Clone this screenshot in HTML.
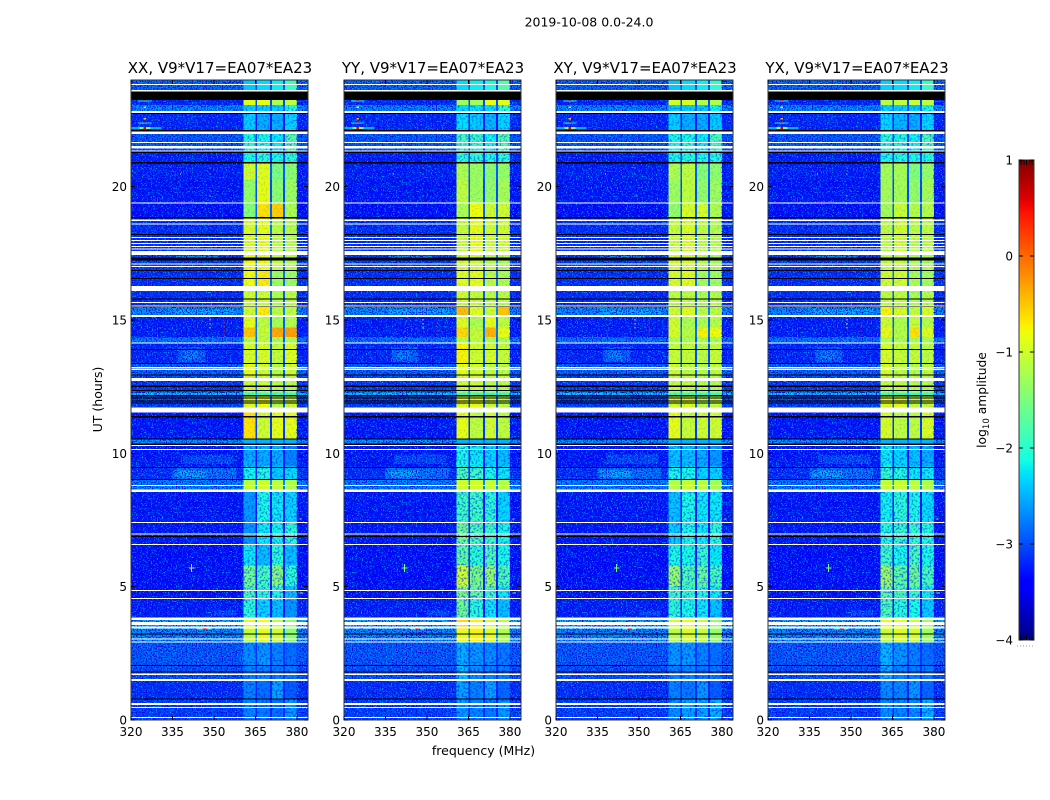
<!DOCTYPE html>
<html><head><meta charset="utf-8"><title>2019-10-08 spectrograms</title>
<style>
html,body{margin:0;padding:0;background:#fff;}
svg{display:block;font-family:"DejaVu Sans","Liberation Sans",sans-serif;fill:#000;}
</style></head>
<body>
<svg id="fig" width="1050" height="800" viewBox="0 0 1050 800" xmlns="http://www.w3.org/2000/svg" shape-rendering="crispEdges">
<defs>
<filter id="speckle" x="0" y="0" width="100%" height="100%" color-interpolation-filters="sRGB">
<feTurbulence type="fractalNoise" baseFrequency="0.8" numOctaves="1" seed="4"/>
<feColorMatrix type="matrix" values="0 0 0 0 0  0 0 0 0 0.62  0 0 0 0 1  9 0 0 0 -4.9"/>
</filter>
<filter id="speckle-dark" x="0" y="0" width="100%" height="100%" color-interpolation-filters="sRGB">
<feTurbulence type="fractalNoise" baseFrequency="0.8" numOctaves="1" seed="17"/>
<feColorMatrix type="matrix" values="0 0 0 0 0  0 0 0 0 0.04  0 0 0 0 0.85  9 0 0 0 -4.5"/>
</filter>
<filter id="speckle-band" x="0" y="0" width="100%" height="100%" color-interpolation-filters="sRGB">
<feTurbulence type="fractalNoise" baseFrequency="0.5" numOctaves="2" seed="9"/>
<feColorMatrix type="matrix" values="0 0 0 0 0  0 0 0 0 0.2  0 0 0 0 0.95  6 0 0 0 -3"/>
</filter>
<linearGradient id="jet-gradient" x1="0" y1="1" x2="0" y2="0"></linearGradient>
</defs>
<text x="589" y="26.5" font-size="12.5" text-anchor="middle">2019-10-08 0.0-24.0</text>
<g id="panels"></g>
<text transform="translate(102,399.5) rotate(-90)" font-size="12.5" text-anchor="middle">UT (hours)</text>
<text x="483.5" y="755" font-size="12.5" text-anchor="middle">frequency (MHz)</text>
<g id="colorbar"></g>
<text transform="translate(986,400) rotate(-90)" font-size="12.3" text-anchor="middle">log<tspan font-size="8.6" dy="3">10</tspan><tspan dy="-3"> amplitude</tspan></text>
</svg>
<script>
// ---- axes data ----
const panelTitles = ["XX, V9*V17=EA07*EA23","YY, V9*V17=EA07*EA23","XY, V9*V17=EA07*EA23","YX, V9*V17=EA07*EA23"];
const freqTicks = [320,335,350,365,380];
const utTicks = [0,5,10,15,20];
const cbarTicks = [-4,-3,-2,-1,0,1];
const cbarMinor = [-3.98,-3.94,-3.9,-3.86,-3.82,0.82,0.86,0.9,0.94,0.98];
// frequency column edges (MHz): outside, band1, gap, band2, gap, band3, gap, band4, outside
const freqEdges = [320,360.6,365.05,365.6,370.3,371,375,375.7,380,384];
// time row edges (UT hours)
const utEdges = [24,23.25,23.06,22.72,22.06,21.32,20.87,20.27,19.37,18.82,17.47,16.87,16.27,15.52,15.17,14.72,14.37,14.12,13.38,12.88,12.29,12.14,11.54,10.55,10.29,9.5,9.0,8.55,7.4,6.6,5.8,5,4.5,3.85,3.41,2.91,2.06,1.51,0.81,0];
// log10 amplitude per time row
const backgroundLevels = [-2.85,-3.2,-2.65,-3.2,-2.9,-3.25,-3.25,-3.3,-3.35,-3.15,-3.05,-3.15,-3.15,-2.65,-3.25,-3.25,-2.75,-3.2,-2.85,-3.05,-2.25,-3.05,-3.3,-2.6,-3.3,-3.15,-2.7,-3.3,-3.3,-3.35,-3.35,-3.35,-3.25,-2.45,-2.65,-2.9,-2.95,-3.15,-3.05];
const gapLevels = [-3,-3,-2.9,-3.3,-3,-3.1,-2.9,-3,-2.9,-2.8,-2.8,-2.8,-2.9,-2.7,-2.9,-2.8,-2.9,-3,-2.9,-2.8,-2.4,-2.9,-3.1,-2.8,-3.3,-3.2,-2.7,-3.3,-3.3,-3.3,-3.2,-3.3,-3.3,-2.7,-2.7,-3.1,-3.1,-3.2,-3.2];
const xxBands = [[-2.4,-2.3,-2.2,-1.9],[-0.9,-0.85,-1.2,-1.1],[-2.35,-2.35,-2.35,-2.05],[-2.35,-2.5,-2.5,-2.3],[-2.05,-2.1,-2.2,-1.75],[-2.1,-2,-2.1,-2],[-1.0,-0.9,-1.5,-1.4],[-1.35,-0.85,-1.4,-1.3],[-1.45,-0.65,-0.55,-1.2],[-0.95,-0.85,-1.1,-1.15],[-0.8,-0.8,-1.05,-1.15],[-0.8,-0.7,-1.3,-1.3],[-1,-1,-1.2,-1.1],[-1,-0.7,-1.1,-1.1],[-0.85,-1.1,-1.25,-1.15],[-0.5,-1.05,-0.35,-0.3],[-1.15,-1.1,-1.2,-1.2],[-0.95,-0.95,-1.05,-0.9],[-0.85,-1,-1.15,-1],[-1,-1,-1.1,-1.1],[-1.9,-1.9,-1.9,-1.9],[-0.9,-0.8,-1.1,-1],[-0.65,-1,-0.85,-0.85],[-2.5,-2.5,-2.5,-2.5],[-2.5,-2.5,-2.5,-2.7],[-2.15,-2.05,-2.35,-2.25],[-1.1,-1,-1.1,-1.2],[-2.6,-2.1,-2.2,-2.3],[-2.6,-2.2,-2.15,-2],[-2.2,-2.4,-2,-2.4],[-1.6,-1.85,-1.45,-2],[-1.85,-2,-2.1,-2.4],[-2,-2.3,-2.4,-2.6],[-0.9,-0.8,-1.1,-1.4],[-1.1,-0.85,-1,-1.4],[-2.65,-2.6,-2.7,-2.8],[-2.7,-2.7,-2.75,-2.75],[-2.7,-2.8,-2.55,-2.9],[-2.7,-2.75,-2.8,-2.6]];
const yyBands = [[-2.3,-2.2,-2.1,-1.8],[-1.3,-1.3,-0.85,-0.9],[-2.25,-2.25,-2.25,-1.95],[-2.25,-2.35,-2.45,-2.3],[-1.85,-1.95,-2.15,-1.75],[-2,-2,-2.1,-2],[-1.2,-1.3,-1.4,-1.35],[-1.1,-1.3,-1.35,-1.25],[-1.2,-0.8,-1,-1],[-1.05,-0.85,-1,-1],[-0.95,-1,-1.1,-1.2],[-0.9,-0.85,-1.1,-1.2],[-1,-1.05,-1.1,-1.1],[-0.45,-0.9,-1,-0.5],[-0.9,-1.2,-0.85,-1.1],[-0.6,-1.05,-0.4,-0.85],[-1.1,-1.1,-1.2,-1.2],[-0.75,-1,-0.95,-1.05],[-0.85,-1,-1.1,-1.1],[-1,-1,-1.1,-1.1],[-1.9,-1.9,-1.9,-1.9],[-0.85,-0.85,-1,-1.1],[-0.85,-1.1,-1,-1.1],[-2.5,-2.5,-2.5,-2.5],[-2.1,-2.2,-2.3,-2.4],[-1.8,-1.9,-2.1,-2.2],[-1,-1,-1.05,-1.15],[-1.9,-1.9,-2,-2.3],[-1.6,-1.8,-1.9,-2.1],[-1.7,-2,-1.8,-2.1],[-1,-1.5,-1.35,-1.8],[-1.5,-1.7,-1.9,-2.2],[-1.6,-2,-2.2,-2.4],[-0.6,-0.75,-0.95,-1.15],[-0.85,-0.75,-0.85,-1.2],[-2.5,-2.6,-2.65,-2.75],[-2.4,-2.65,-2.7,-2.75],[-2.55,-2.7,-2.55,-2.85],[-2.6,-2.7,-2.75,-2.6]];
const xyBands = [[-2.4,-2.3,-2.2,-2],[-1.0,-0.95,-1.2,-1.2],[-2.35,-2.35,-2.35,-2.15],[-2.35,-2.5,-2.5,-2.35],[-2.1,-2.1,-2.2,-1.85],[-2.1,-2.05,-2.1,-2.05],[-1.2,-1.1,-1.45,-1.4],[-1.3,-1.1,-1.35,-1.3],[-1.35,-0.95,-0.95,-1.2],[-1.05,-0.95,-1.1,-1.15],[-0.95,-0.95,-1.1,-1.2],[-0.95,-0.9,-1.25,-1.3],[-1.1,-1.1,-1.2,-1.15],[-1,-0.9,-1.1,-1.1],[-1,-1.2,-1.2,-1.15],[-0.95,-1.15,-0.75,-0.8],[-1.2,-1.2,-1.2,-1.25],[-1.05,-1.05,-1.1,-1.05],[-1,-1.1,-1.15,-1.1],[-1.05,-1.05,-1.1,-1.15],[-1.9,-1.9,-1.9,-1.9],[-0.95,-0.9,-1.1,-1.05],[-0.85,-1.05,-1,-1],[-2.5,-2.5,-2.5,-2.5],[-2.4,-2.4,-2.5,-2.6],[-2.1,-2.1,-2.3,-2.3],[-1.15,-1.05,-1.1,-1.25],[-2.4,-2.1,-2.2,-2.2],[-2.35,-2.1,-2.2,-2],[-2.1,-2.1,-1.95,-2.2],[-1.35,-1.8,-1.65,-1.85],[-1.9,-2,-2.05,-2.2],[-2,-2.1,-2.2,-2.4],[-0.95,-0.85,-1.05,-1.35],[-1.15,-0.95,-1.05,-1.35],[-2.6,-2.6,-2.7,-2.8],[-2.7,-2.7,-2.75,-2.75],[-2.7,-2.75,-2.6,-2.9],[-2.65,-2.55,-2.55,-2.5]];
const yxBands = [[-2.35,-2.3,-2.2,-1.95],[-1.15,-1.1,-1.05,-1.1],[-2.3,-2.35,-2.35,-2.1],[-2.3,-2.45,-2.5,-2.3],[-2,-2.05,-2.15,-1.8],[-2.1,-2.05,-2.1,-2.05],[-1.25,-1.25,-1.45,-1.35],[-1.25,-1.25,-1.35,-1.25],[-1.25,-1.05,-1.15,-1.15],[-1.1,-1,-1.1,-1.1],[-1.05,-1.05,-1.15,-1.2],[-1,-1,-1.2,-1.25],[-1.1,-1.1,-1.2,-1.15],[-0.75,-0.95,-1.05,-0.95],[-1,-1.2,-1.05,-1.15],[-0.85,-1.15,-0.65,-0.9],[-1.2,-1.2,-1.2,-1.25],[-0.95,-1.05,-1.05,-1.1],[-0.95,-1.1,-1.15,-1.1],[-1.05,-1.05,-1.1,-1.15],[-1.9,-1.9,-1.9,-1.9],[-0.85,-0.9,-1.05,-1],[-0.95,-1.1,-1.1,-0.95],[-2.5,-2.5,-2.5,-2.5],[-2.2,-2.3,-2.4,-2.5],[-1.95,-2.05,-2.2,-2.2],[-1.05,-1.05,-1.1,-1.2],[-2.15,-2,-2.1,-2.25],[-2.05,-1.95,-1.95,-2.05],[-1.9,-2.1,-1.85,-2.1],[-1.3,-1.7,-1.6,-1.85],[-1.75,-1.85,-1.95,-2.2],[-1.8,-2,-2.1,-2.35],[-0.85,-0.85,-1,-1.25],[-1.05,-0.9,-0.95,-1.3],[-2.45,-2.6,-2.7,-2.8],[-2.5,-2.7,-2.75,-2.75],[-2.65,-2.7,-2.6,-2.85],[-2.65,-2.7,-2.65,-2.5]];
const panelBands = [xxBands,yyBands,xyBands,yxBands];
// broad emission patches and narrow interference: [freqStart, freqEnd, utTop, utBottom, level]
const patches = [
 [336,352,17.39,17.24,-2.3],[337,347,13.98,13.43,-2.85],[339,344,13.83,13.53,-2.65],
 [335,358,9.45,9.02,-2.75],[336,347,9.35,9.1,-2.45],[338,357,9.95,9.6,-3.0],[350,358,4.11,3.91,-2.95],
 [336,358,15.42,15.22,-2.45]
];
const interference = [
 [322.5,327.5,23.24,23.19,-2.2],[324.6,325.4,23.24,23.17,0.1],[324.6,325.4,23,22.95,-1.2],
 [324.6,325.4,22.58,22.52,-0.4],[322.5,327.5,22.4,22.36,-2.2],[324.6,325.4,22.4,22.35,0.1],
 [320,331,22.24,22.17,-2.5],[323,327,22.24,22.17,-1.4],[324.6,325.4,22.24,22.17,0.6],
 [344,349,3.43,3.4,-1.8],[345.9,347.4,3.44,3.39,0.5],
 [341,343,5.72,5.69,-1.2],[341.7,342.1,5.85,5.55,-1.6],
 [353.5,353.9,14.9,14.86,0.3],[353.5,353.9,14.75,14.71,0.3],[353.5,353.9,14.6,14.56,0.4],[353.5,353.9,14.45,14.41,0.4],
 [348.4,348.8,15.03,14.99,-0.8],[348.4,348.8,14.88,14.84,-0.8],[348.4,348.8,14.73,14.69,-0.8],
 [348.4,348.8,19.67,19.63,-0.8],[348.4,348.8,20.72,20.68,-0.7],[348.4,348.8,20.5,20.46,-0.9],[337.7,338.1,20.5,20.46,-0.9],
 [381,381.6,7.55,7.51,-1.1],[381,382.2,4.78,4.75,-1.4]
];
// flagged time ranges: white = no data, black = zero: [utTop, utBottom]
const whiteFlags = [[23.85,23.81],[23.63,23.57],[22.84,22.76],[22.06,21.97],[21.67,21.63],[21.53,21.44],[21.36,21.32],[19.4,19.36],[18.76,18.72],[18.62,18.59],[18.12,18.08],[18,17.96],[17.89,17.86],[17.78,17.74],[17.68,17.65],[17.58,17.43],[17.12,17.09],[17.03,16.99],[16.27,16.09],[15.68,15.64],[15.55,15.52],[15.18,15.11],[14.16,14.13],[13.24,13.19],[13.17,13.12],[12.82,12.71],[11.72,11.53],[10.32,10.28],[10.17,10.13],[8.82,8.78],[8.65,8.55],[7.42,7.39],[7,6.96],[6.6,6.56],[4.87,4.83],[4.57,4.53],[3.85,3.75],[3.68,3.57],[3.51,3.43],[3.06,3.01],[2.95,2.9],[1.75,1.69],[1.54,1.47],[0.64,0.56],[0.49,0.45],[0.12,0.08]];
const blackFlags = [[23.57,23.25],[22.76,22.72],[22.12,22.06],[21.32,21.27],[20.92,20.87],[18.87,18.8],[18.22,18.18],[17.35,17.24],[16.87,16.83],[16.58,16.54],[15.8,15.77],[15.52,15.48],[13.92,13.88],[13.39,13.36],[12.96,12.92],[12.54,12.49],[12.37,12.33],[12.19,12.14],[12.09,12.06],[11.99,11.95],[11.9,11.87],[11.4,11.34],[10.55,10.51],[10.37,10.32],[9.48,9.45],[9.04,9],[6.9,6.86],[3.25,3.21],[2.06,2.02],[1.82,1.78],[0.81,0.77]];

// ---- layout and scales ----
const NS = "http://www.w3.org/2000/svg";
const panelLefts = [131,344,556,768];
const plotW = 177, plotTop = 80, plotBottom = 720;
const freqMin = 320, freqMax = 384, utMin = 0, utMax = 24;
const levelMin = -4, levelMax = 1;
const cbarX = 1019, cbarW = 15, cbarTop = 160, cbarBottom = 640;
function xScale(panel, f){ return panelLefts[panel] + (f - freqMin) / (freqMax - freqMin) * plotW; }
function yScale(u){ return plotBottom - (u - utMin) / (utMax - utMin) * (plotBottom - plotTop); }
function cbarY(v){ return cbarBottom - (v - levelMin) / (levelMax - levelMin) * (cbarBottom - cbarTop); }
function clamp(x){ return Math.max(0, Math.min(1, x)); }
function jet(t){
  t = clamp(t);
  const r = clamp(Math.min((t - 0.35) / 0.31, t > 0.89 ? 1 - (t - 0.89) / 0.22 : 1));
  const g = clamp(t < 0.375 ? (t - 0.125) / 0.25 : (0.91 - t) / 0.27);
  const b = clamp(t < 0.11 ? 0.5 + t / 0.22 : (0.65 - t) / 0.31);
  return "rgb(" + Math.round(r * 255) + "," + Math.round(g * 255) + "," + Math.round(b * 255) + ")";
}
function levelColor(v){ return jet((v - levelMin) / (levelMax - levelMin)); }
function svgEl(tag, parent, attrs){
  const el = document.createElementNS(NS, tag);
  for (const k in attrs) el.setAttribute(k, attrs[k]);
  parent.appendChild(el);
  return el;
}
function bandRect(parent, panel, f0, f1, u0, u1, fill){
  const x0 = xScale(panel, f0), x1 = xScale(panel, f1), y0 = yScale(u0), y1 = yScale(u1);
  return svgEl("rect", parent, {x:x0, y:y0, width:Math.max(x1 - x0, 1), height:Math.max(y1 - y0, 1), fill:fill});
}
function addTexture(parent, panel, f0, f1, u0, u1, filterId, opacity){
  const s = bandRect(parent, panel, f0, f1, u0, u1, "#000");
  s.setAttribute("filter", "url(#" + filterId + ")");
  s.setAttribute("opacity", opacity);
  
  
}

const panelsRoot = document.getElementById("panels");
panelTitles.forEach(function(title, p){
  const g = svgEl("g", panelsRoot, {});
  
  
  const clipId = "clip" + p;
  const defsClip = svgEl("clipPath", g, {id:clipId});
  svgEl("rect", defsClip, {x:panelLefts[p], y:plotTop, width:plotW, height:plotBottom - plotTop});
  const img = svgEl("g", g, {"clip-path":"url(#" + clipId + ")"});
  
  
  svgEl("rect", img, {x:panelLefts[p], y:plotTop, width:plotW, height:plotBottom - plotTop, fill:"#fff"});
  // heatmap cells
  for (let r = 0; r < utEdges.length - 1; r++){
    const bands = panelBands[p][r];
    const rowLevels = [backgroundLevels[r], bands[0], gapLevels[r], bands[1], gapLevels[r], bands[2], gapLevels[r], bands[3], backgroundLevels[r]];
    for (let c = 0; c < rowLevels.length; c++){
      const cell = bandRect(img, p, freqEdges[c], freqEdges[c + 1], utEdges[r], utEdges[r + 1], levelColor(rowLevels[c]));
      
      
    }
  }
  // emission patches
  patches.forEach(function(q){
    const m = bandRect(img, p, q[0], q[1], q[2], q[3], levelColor(q[4]));
    
    
  });
  // decorative noise overlays
  addTexture(img, p, freqEdges[0], freqEdges[1], utMax, utMin, "speckle", 1);
  addTexture(img, p, freqEdges[0], freqEdges[1], utMax, utMin, "speckle-dark", 1);
  addTexture(img, p, freqEdges[8], freqEdges[9], utMax, utMin, "speckle", 1);
  addTexture(img, p, freqEdges[8], freqEdges[9], utMax, utMin, "speckle-dark", 1);
  addTexture(img, p, freqEdges[1], freqEdges[8], 8.55, 3.85, "speckle-band", 0.6);
  addTexture(img, p, freqEdges[1], freqEdges[8], 2.91, utMin, "speckle-band", 0.8);
  addTexture(img, p, freqEdges[1], freqEdges[8], 10.29, 9, "speckle-band", 0.6);
  addTexture(img, p, freqEdges[1], freqEdges[8], 23.06, 20.87, "speckle-band", 0.5);
  addTexture(img, p, freqEdges[1], freqEdges[8], 20.87, 10.55, "speckle-band", 0.12);
  // narrow interference
  interference.forEach(function(q){
    const m = bandRect(img, p, q[0], q[1], q[2], q[3], levelColor(q[4]));
    
    
  });
  // flags
  blackFlags.forEach(function(q){
    const m = bandRect(img, p, freqMin, freqMax, q[0], q[1], "#000");
    
    
  });
  whiteFlags.forEach(function(q){
    const m = bandRect(img, p, freqMin, freqMax, q[0], q[1], "#fff");
    
    
  });
  // frame
  const frame = svgEl("rect", g, {x:panelLefts[p], y:plotTop, width:plotW, height:plotBottom - plotTop, fill:"none", stroke:"#333", "stroke-width":1.2});
  
  
  // x ticks
  freqTicks.forEach(function(f){
    const x = xScale(p, f);
    const t1 = svgEl("line", g, {x1:x, x2:x, y1:plotBottom, y2:plotBottom - 4, stroke:"#000"});
    
    
    const t2 = svgEl("line", g, {x1:x, x2:x, y1:plotTop, y2:plotTop + 4, stroke:"#000"});
    
    
    const lab = svgEl("text", g, {x:x, y:736, "font-size":12, "text-anchor":"middle"});
    lab.textContent = String(f);
    
    
  });
  // y ticks
  utTicks.forEach(function(u){
    const y = yScale(u);
    const t1 = svgEl("line", g, {x1:panelLefts[p], x2:panelLefts[p] + 4, y1:y, y2:y, stroke:"#000"});
    
    
    const t2 = svgEl("line", g, {x1:panelLefts[p] + plotW, x2:panelLefts[p] + plotW - 4, y1:y, y2:y, stroke:"#000"});
    
    
    const lab = svgEl("text", g, {x:panelLefts[p] - 4, y:y + 4.5, "font-size":12, "text-anchor":"end"});
    lab.textContent = String(u);
    
    
  });
  const tt = svgEl("text", g, {x:panelLefts[p] + plotW / 2 + 0.5, y:73, "font-size":15, "text-anchor":"middle"});
  tt.textContent = title;
  
  
});

// ---- colorbar ----
const grad = document.getElementById("jet-gradient");
for (let i = 0; i <= 64; i++){
  svgEl("stop", grad, {offset:(i / 64), "stop-color":jet(i / 64)});
}
const cb = document.getElementById("colorbar");
const cbRect = svgEl("rect", cb, {x:cbarX, y:cbarTop, width:cbarW, height:cbarBottom - cbarTop, fill:"url(#jet-gradient)", stroke:"#333", "stroke-width":1.2});


cbarTicks.forEach(function(v){
  const y = cbarY(v);
  const a = svgEl("line", cb, {x1:cbarX, x2:cbarX + 4, y1:y, y2:y, stroke:"#000"});
  
  
  const b = svgEl("line", cb, {x1:cbarX + cbarW - 4, x2:cbarX + cbarW, y1:y, y2:y, stroke:"#000"});
  
  
  const lab = svgEl("text", cb, {x:1013, y:y + 4.5, "font-size":12, "text-anchor":"end"});
  lab.textContent = (v < 0 ? "\u2212" + (-v) : String(v));
  
  
});
cbarMinor.forEach(function(v){
  const x = cbarX + 2 + (Math.abs(v) < 1 ? (Math.abs(v) - 0.82) : (Math.abs(v) - 3.82)) / 0.16 * (cbarW - 4);
  const top = v > 0;
  const m = svgEl("line", cb, {x1:x, x2:x, y1:top ? cbarTop : cbarBottom, y2:top ? cbarTop + 5 : cbarBottom - 5, stroke:"#000"});
  
  
});
const dots = svgEl("line", cb, {x1:1017, x2:1035, y1:646, y2:646, stroke:"#999", "stroke-dasharray":"1 2"});


</script>
</body></html>
